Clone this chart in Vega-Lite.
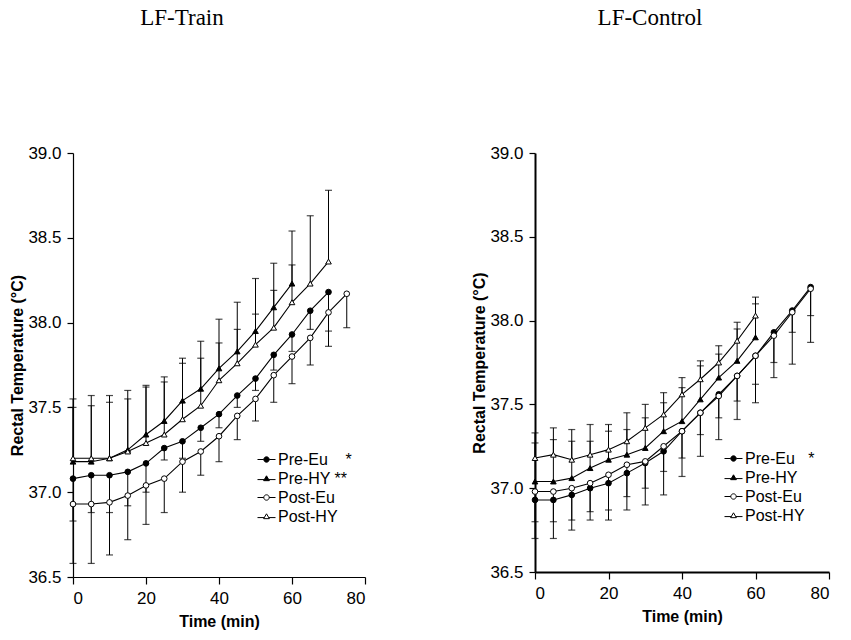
{
"$schema": "https://vega.github.io/schema/vega-lite/v6.json",
"padding": {"left": 9, "top": 7, "right": 5, "bottom": 3},
"spacing": 105,
"config": {
  "view": {"stroke": null},
  "font": "Liberation Sans",
  "axis": {"domainColor": "black", "tickColor": "black", "labelColor": "black", "titleColor": "black", "labelFontSize": 17, "titleFontSize": 16, "titleFontWeight": "bold", "grid": false, "tickSize": 6, "labelPadding": 6, "domainWidth": 1.2, "tickWidth": 1.2, "labelFont": "Liberation Sans", "titleFont": "Liberation Sans"},
  "axisY": {"titlePadding": 2},
  "axisX": {"titlePadding": 7},
  "legend": {"orient": "none", "title": null, "labelFontSize": 16, "labelColor": "black", "symbolSize": 324, "rowPadding": 1, "labelOffset": 2, "padding": 0, "symbolStrokeColor": "black", "symbolStrokeWidth": 1, "symbolOpacity": 1},
  "title": {"font": "Liberation Serif", "fontSize": 23, "fontWeight": "normal", "color": "black", "offset": 114}
},
"datasets": {
  "train": [
    {"s":"Pre-Eu","t":0,"v":37.08,"e":36.83},{"s":"Pre-Eu","t":5,"v":37.10,"e":36.88},{"s":"Pre-Eu","t":10,"v":37.10,"e":36.88},{"s":"Pre-Eu","t":15,"v":37.12,"e":36.92},{"s":"Pre-Eu","t":20,"v":37.17,"e":37.00},{"s":"Pre-Eu","t":25,"v":37.26,"e":37.19},{"s":"Pre-Eu","t":30,"v":37.30,"e":37.20},{"s":"Pre-Eu","t":35,"v":37.38,"e":37.30},{"s":"Pre-Eu","t":40,"v":37.46,"e":37.38},{"s":"Pre-Eu","t":45,"v":37.57,"e":37.50},{"s":"Pre-Eu","t":50,"v":37.67,"e":37.60},{"s":"Pre-Eu","t":55,"v":37.81,"e":37.72},{"s":"Pre-Eu","t":60,"v":37.93,"e":37.83},{"s":"Pre-Eu","t":65,"v":38.07,"e":37.96},{"s":"Pre-Eu","t":70,"v":38.18,"e":37.95},
    {"s":"Pre-HY","t":0,"v":37.18,"e":37.50},{"s":"Pre-HY","t":5,"v":37.18,"e":37.51},{"s":"Pre-HY","t":10,"v":37.20,"e":37.53},{"s":"Pre-HY","t":15,"v":37.25,"e":37.55},{"s":"Pre-HY","t":20,"v":37.34,"e":37.62},{"s":"Pre-HY","t":25,"v":37.42,"e":37.65},{"s":"Pre-HY","t":30,"v":37.54,"e":37.76},{"s":"Pre-HY","t":35,"v":37.61,"e":37.79},{"s":"Pre-HY","t":40,"v":37.73,"e":37.88},{"s":"Pre-HY","t":45,"v":37.83,"e":37.96},{"s":"Pre-HY","t":50,"v":37.95,"e":38.05},{"s":"Pre-HY","t":55,"v":38.09,"e":38.19},{"s":"Pre-HY","t":60,"v":38.23,"e":38.34},
    {"s":"Post-Eu","t":0,"v":36.93,"e":36.58},{"s":"Post-Eu","t":5,"v":36.93,"e":36.58},{"s":"Post-Eu","t":10,"v":36.94,"e":36.63},{"s":"Post-Eu","t":15,"v":36.98,"e":36.72},{"s":"Post-Eu","t":20,"v":37.04,"e":36.81},{"s":"Post-Eu","t":25,"v":37.08,"e":36.88},{"s":"Post-Eu","t":30,"v":37.18,"e":37.00},{"s":"Post-Eu","t":35,"v":37.24,"e":37.10},{"s":"Post-Eu","t":40,"v":37.33,"e":37.18},{"s":"Post-Eu","t":45,"v":37.45,"e":37.31},{"s":"Post-Eu","t":50,"v":37.55,"e":37.42},{"s":"Post-Eu","t":55,"v":37.69,"e":37.53},{"s":"Post-Eu","t":60,"v":37.80,"e":37.64},{"s":"Post-Eu","t":65,"v":37.91,"e":37.75},{"s":"Post-Eu","t":70,"v":38.06,"e":37.86},{"s":"Post-Eu","t":75,"v":38.17,"e":37.97},
    {"s":"Post-HY","t":0,"v":37.20,"e":37.55},{"s":"Post-HY","t":5,"v":37.20,"e":37.57},{"s":"Post-HY","t":10,"v":37.20,"e":37.57},{"s":"Post-HY","t":15,"v":37.24,"e":37.60},{"s":"Post-HY","t":20,"v":37.29,"e":37.63},{"s":"Post-HY","t":25,"v":37.34,"e":37.68},{"s":"Post-HY","t":30,"v":37.43,"e":37.79},{"s":"Post-HY","t":35,"v":37.51,"e":37.89},{"s":"Post-HY","t":40,"v":37.66,"e":38.02},{"s":"Post-HY","t":45,"v":37.76,"e":38.12},{"s":"Post-HY","t":50,"v":37.87,"e":38.26},{"s":"Post-HY","t":55,"v":37.97,"e":38.35},{"s":"Post-HY","t":60,"v":38.12,"e":38.54},{"s":"Post-HY","t":65,"v":38.23,"e":38.63},{"s":"Post-HY","t":70,"v":38.36,"e":38.78}
  ],
  "control": [
    {"s":"Pre-Eu","t":0,"v":36.93,"e":36.70},{"s":"Pre-Eu","t":5,"v":36.93,"e":36.70},{"s":"Pre-Eu","t":10,"v":36.96,"e":36.75},{"s":"Pre-Eu","t":15,"v":37.00,"e":36.81},{"s":"Pre-Eu","t":20,"v":37.03,"e":36.81},{"s":"Pre-Eu","t":25,"v":37.09,"e":36.87},{"s":"Pre-Eu","t":30,"v":37.15,"e":36.90},{"s":"Pre-Eu","t":35,"v":37.22,"e":36.96},{"s":"Pre-Eu","t":40,"v":37.34,"e":37.07},{"s":"Pre-Eu","t":45,"v":37.45,"e":37.19},{"s":"Pre-Eu","t":50,"v":37.56,"e":37.29},{"s":"Pre-Eu","t":55,"v":37.67,"e":37.41},{"s":"Pre-Eu","t":60,"v":37.79,"e":37.51},{"s":"Pre-Eu","t":65,"v":37.93,"e":37.66},{"s":"Pre-Eu","t":70,"v":38.06,"e":37.74},{"s":"Pre-Eu","t":75,"v":38.20,"e":37.87},
    {"s":"Pre-HY","t":0,"v":37.04,"e":37.27},{"s":"Pre-HY","t":5,"v":37.04,"e":37.29},{"s":"Pre-HY","t":10,"v":37.06,"e":37.28},{"s":"Pre-HY","t":15,"v":37.12,"e":37.28},{"s":"Pre-HY","t":20,"v":37.17,"e":37.34},{"s":"Pre-HY","t":25,"v":37.20,"e":37.35},{"s":"Pre-HY","t":30,"v":37.24,"e":37.42},{"s":"Pre-HY","t":35,"v":37.34,"e":37.51},{"s":"Pre-HY","t":40,"v":37.40,"e":37.60},{"s":"Pre-HY","t":45,"v":37.53,"e":37.73},{"s":"Pre-HY","t":50,"v":37.66,"e":37.80},{"s":"Pre-HY","t":55,"v":37.76,"e":37.95},{"s":"Pre-HY","t":60,"v":37.90,"e":38.10},
    {"s":"Post-Eu","t":0,"v":36.98,"e":36.80},{"s":"Post-Eu","t":5,"v":36.98,"e":36.80},{"s":"Post-Eu","t":10,"v":37.00,"e":36.81},{"s":"Post-Eu","t":15,"v":37.03,"e":36.86},{"s":"Post-Eu","t":20,"v":37.08,"e":36.87},{"s":"Post-Eu","t":25,"v":37.14,"e":36.95},{"s":"Post-Eu","t":30,"v":37.16,"e":37.00},{"s":"Post-Eu","t":35,"v":37.25,"e":37.10},{"s":"Post-Eu","t":40,"v":37.34,"e":37.18},{"s":"Post-Eu","t":45,"v":37.45,"e":37.32},{"s":"Post-Eu","t":50,"v":37.55,"e":37.42},{"s":"Post-Eu","t":55,"v":37.67,"e":37.52},{"s":"Post-Eu","t":60,"v":37.79,"e":37.62},{"s":"Post-Eu","t":65,"v":37.91,"e":37.75},{"s":"Post-Eu","t":70,"v":38.05,"e":37.93},{"s":"Post-Eu","t":75,"v":38.19,"e":38.03},
    {"s":"Post-HY","t":0,"v":37.18,"e":37.33},{"s":"Post-HY","t":5,"v":37.20,"e":37.36},{"s":"Post-HY","t":10,"v":37.17,"e":37.35},{"s":"Post-HY","t":15,"v":37.20,"e":37.38},{"s":"Post-HY","t":20,"v":37.23,"e":37.38},{"s":"Post-HY","t":25,"v":37.28,"e":37.45},{"s":"Post-HY","t":30,"v":37.36,"e":37.50},{"s":"Post-HY","t":35,"v":37.44,"e":37.57},{"s":"Post-HY","t":40,"v":37.56,"e":37.66},{"s":"Post-HY","t":45,"v":37.65,"e":37.76},{"s":"Post-HY","t":50,"v":37.75,"e":37.85},{"s":"Post-HY","t":55,"v":37.88,"e":37.99},{"s":"Post-HY","t":60,"v":38.03,"e":38.14}
  ]
},
"hconcat": [
  {
    "title": {"text": "LF-Train", "dx": -37},
    "width": 292, "height": 424,
    "data": {"name": "train"},
    "layer": [
      {"mark": {"type": "rule", "color": "black", "strokeWidth": 1},
       "encoding": {"x": {"field": "t", "type": "quantitative", "scale": {"domain": [0, 80], "nice": false}, "axis": {"title": "Time (min)", "values": [0,10,20,30,40,50,60,70,80], "labelExpr": "datum.value % 20 === 0 ? datum.label : ''", "tickSize": {"condition": {"test": "datum.value % 20 === 0", "value": 7}, "value": 4}}},
                    "y": {"field": "v", "type": "quantitative", "scale": {"domain": [36.5, 39], "nice": false, "zero": false}, "axis": {"title": "Rectal Temperature (°C)", "values": [36.5,37,37.5,38,38.5,39], "format": ".1f"}},
                    "y2": {"field": "e"}}},
      {"mark": {"type": "tick", "orient": "horizontal", "color": "black", "size": 7, "thickness": 1.2},
       "encoding": {"x": {"field": "t", "type": "quantitative"}, "y": {"field": "e", "type": "quantitative"}}},
      {"mark": {"type": "line", "color": "black", "strokeWidth": 1.1},
       "encoding": {"x": {"field": "t", "type": "quantitative"}, "y": {"field": "v", "type": "quantitative"}, "detail": {"field": "s"}}},
      {"mark": {"type": "point", "filled": true, "stroke": "black", "strokeWidth": 1, "opacity": 1, "size": 32},
       "encoding": {"x": {"field": "t", "type": "quantitative"}, "y": {"field": "v", "type": "quantitative"},
                    "shape": {"field": "s", "type": "nominal", "scale": {"domain": ["Pre-Eu","Pre-HY","Post-Eu","Post-HY"], "range": ["circle","triangle-up","circle","triangle-up"]}, "legend": null},
                    "fill": {"field": "s", "type": "nominal", "scale": {"domain": ["Pre-Eu","Pre-HY","Post-Eu","Post-HY"], "range": ["black","black","white","white"]}, "legend": null}}},
      {"mark": {"type": "point", "filled": true, "stroke": "black", "strokeWidth": 1, "opacity": 0},
       "encoding": {"x": {"field": "t", "type": "quantitative"}, "y": {"field": "v", "type": "quantitative"},
                    "shape": {"field": "s", "type": "nominal", "scale": {"domain": ["Pre-Eu","Pre-HY","Post-Eu","Post-HY"], "range": ["M-1,0H-0.3M0.3,0H1M0.3,0A0.3,0.3,0,1,1,-0.3,0A0.3,0.3,0,1,1,0.3,0Z","M-1,0.12H-0.26M0.26,0.12H1M0,-0.3L0.32,0.24L-0.32,0.24Z","M-1,0H-0.3M0.3,0H1M0.3,0A0.3,0.3,0,1,1,-0.3,0A0.3,0.3,0,1,1,0.3,0Z","M-1,0.12H-0.26M0.26,0.12H1M0,-0.3L0.32,0.24L-0.32,0.24Z"]},
                              "legend": {"legendX": 184, "legendY": 297, "labelExpr": "datum.label === 'Pre-Eu' ? 'Pre-Eu\u00a0\u00a0\u00a0\u00a0*' : datum.label === 'Pre-HY' ? 'Pre-HY **' : datum.label"}},
                    "fill": {"field": "s", "type": "nominal", "scale": {"domain": ["Pre-Eu","Pre-HY","Post-Eu","Post-HY"], "range": ["black","black","white","white"]},
                              "legend": {"legendX": 184, "legendY": 297, "labelExpr": "datum.label === 'Pre-Eu' ? 'Pre-Eu\u00a0\u00a0\u00a0\u00a0*' : datum.label === 'Pre-HY' ? 'Pre-HY **' : datum.label"}},
                    "stroke": {"field": "s", "type": "nominal", "scale": {"domain": ["Pre-Eu","Pre-HY","Post-Eu","Post-HY"], "range": ["black","black","black","black"]},
                              "legend": {"legendX": 184, "legendY": 297, "labelExpr": "datum.label === 'Pre-Eu' ? 'Pre-Eu\u00a0\u00a0\u00a0\u00a0*' : datum.label === 'Pre-HY' ? 'Pre-HY **' : datum.label"}}}}
    ],
    "resolve": {"scale": {"shape": "independent", "fill": "independent", "stroke": "independent"}}
  },
  {
    "title": {"text": "LF-Control", "dx": -32},
    "width": 294, "height": 419,
    "data": {"name": "control"},
    "layer": [
      {"mark": {"type": "rule", "color": "black", "strokeWidth": 1},
       "encoding": {"x": {"field": "t", "type": "quantitative", "scale": {"domain": [0, 80], "nice": false}, "axis": {"title": "Time (min)", "domainWidth": 2, "values": [0,10,20,30,40,50,60,70,80], "labelExpr": "datum.value % 20 === 0 ? datum.label : ''", "tickSize": {"condition": {"test": "datum.value % 20 === 0", "value": 7}, "value": 4}}},
                    "y": {"field": "v", "type": "quantitative", "scale": {"domain": [36.5, 39], "nice": false, "zero": false}, "axis": {"title": "Rectal Temperature (°C)", "domainWidth": 2, "values": [36.5,37,37.5,38,38.5,39], "format": ".1f"}},
                    "y2": {"field": "e"}}},
      {"mark": {"type": "tick", "orient": "horizontal", "color": "black", "size": 7, "thickness": 1.2},
       "encoding": {"x": {"field": "t", "type": "quantitative"}, "y": {"field": "e", "type": "quantitative"}}},
      {"mark": {"type": "line", "color": "black", "strokeWidth": 1.1},
       "encoding": {"x": {"field": "t", "type": "quantitative"}, "y": {"field": "v", "type": "quantitative"}, "detail": {"field": "s"}}},
      {"mark": {"type": "point", "filled": true, "stroke": "black", "strokeWidth": 1, "opacity": 1, "size": 32},
       "encoding": {"x": {"field": "t", "type": "quantitative"}, "y": {"field": "v", "type": "quantitative"},
                    "shape": {"field": "s", "type": "nominal", "scale": {"domain": ["Pre-Eu","Pre-HY","Post-Eu","Post-HY"], "range": ["circle","triangle-up","circle","triangle-up"]}, "legend": null},
                    "fill": {"field": "s", "type": "nominal", "scale": {"domain": ["Pre-Eu","Pre-HY","Post-Eu","Post-HY"], "range": ["black","black","white","white"]}, "legend": null}}},
      {"mark": {"type": "point", "filled": true, "stroke": "black", "strokeWidth": 1, "opacity": 0},
       "encoding": {"x": {"field": "t", "type": "quantitative"}, "y": {"field": "v", "type": "quantitative"},
                    "shape": {"field": "s", "type": "nominal", "scale": {"domain": ["Pre-Eu","Pre-HY","Post-Eu","Post-HY"], "range": ["M-1,0H-0.3M0.3,0H1M0.3,0A0.3,0.3,0,1,1,-0.3,0A0.3,0.3,0,1,1,0.3,0Z","M-1,0.12H-0.26M0.26,0.12H1M0,-0.3L0.32,0.24L-0.32,0.24Z","M-1,0H-0.3M0.3,0H1M0.3,0A0.3,0.3,0,1,1,-0.3,0A0.3,0.3,0,1,1,0.3,0Z","M-1,0.12H-0.26M0.26,0.12H1M0,-0.3L0.32,0.24L-0.32,0.24Z"]},
                              "legend": {"legendX": 189, "legendY": 296, "labelExpr": "datum.label === 'Pre-Eu' ? 'Pre-Eu\u00a0\u00a0\u00a0*' : datum.label"}},
                    "fill": {"field": "s", "type": "nominal", "scale": {"domain": ["Pre-Eu","Pre-HY","Post-Eu","Post-HY"], "range": ["black","black","white","white"]},
                              "legend": {"legendX": 189, "legendY": 296, "labelExpr": "datum.label === 'Pre-Eu' ? 'Pre-Eu\u00a0\u00a0\u00a0*' : datum.label"}},
                    "stroke": {"field": "s", "type": "nominal", "scale": {"domain": ["Pre-Eu","Pre-HY","Post-Eu","Post-HY"], "range": ["black","black","black","black"]},
                              "legend": {"legendX": 189, "legendY": 296, "labelExpr": "datum.label === 'Pre-Eu' ? 'Pre-Eu\u00a0\u00a0\u00a0*' : datum.label"}}}}
    ],
    "resolve": {"scale": {"shape": "independent", "fill": "independent", "stroke": "independent"}}
  }
]
}
